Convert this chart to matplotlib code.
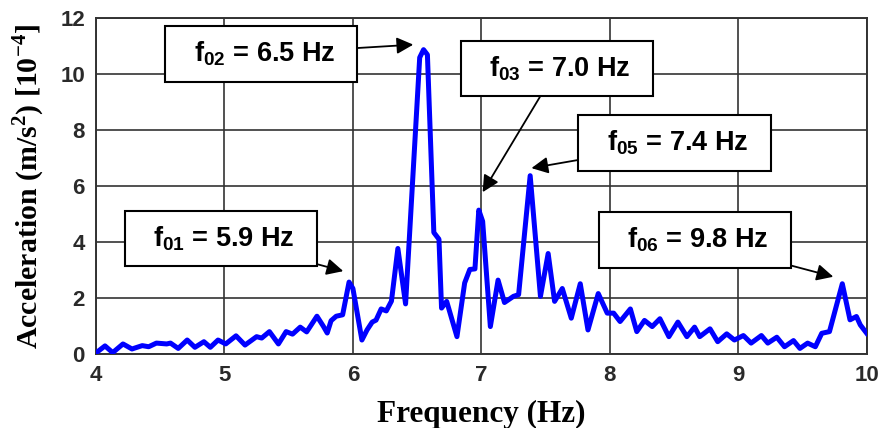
import numpy as np
import matplotlib
matplotlib.use("Agg")
from matplotlib import pyplot as plt

# spectrum (Hz, 1e-4 m/s2)
freq = [4.00, 4.07, 4.13, 4.21, 4.28, 4.36, 4.41, 4.47, 4.55, 4.58, 4.64, 4.71,
        4.77, 4.84, 4.89, 4.95, 5.01, 5.09, 5.16, 5.25, 5.29, 5.35, 5.42, 5.48,
        5.53, 5.59, 5.64, 5.72, 5.77, 5.80, 5.83, 5.87, 5.92, 5.97, 6.00, 6.07,
        6.11, 6.15, 6.18, 6.22, 6.26, 6.30, 6.35, 6.41, 6.52, 6.55, 6.58, 6.63,
        6.67, 6.69, 6.73, 6.81, 6.87, 6.91, 6.95, 6.98, 7.01, 7.07, 7.13, 7.18,
        7.25, 7.29, 7.38, 7.46, 7.52, 7.57, 7.63, 7.70, 7.77, 7.83, 7.91, 7.98,
        8.03, 8.08, 8.16, 8.21, 8.27, 8.33, 8.39, 8.46, 8.53, 8.60, 8.66, 8.70,
        8.78, 8.84, 8.91, 8.97, 9.04, 9.10, 9.18, 9.23, 9.30, 9.36, 9.43, 9.48,
        9.54, 9.60, 9.65, 9.71, 9.81, 9.87, 9.92, 9.95, 10.00]
accel = [0.05, 0.30, 0.06, 0.37, 0.19, 0.31, 0.27, 0.40, 0.37, 0.40, 0.21, 0.51,
         0.25, 0.45, 0.25, 0.51, 0.37, 0.66, 0.33, 0.63, 0.58, 0.81, 0.37, 0.81,
         0.72, 0.97, 0.80, 1.36, 1.00, 0.76, 1.20, 1.36, 1.41, 2.58, 2.35, 0.51,
         0.87, 1.15, 1.22, 1.62, 1.55, 1.90, 3.78, 1.80, 10.6, 10.88, 10.7, 4.35,
         4.11, 1.65, 1.89, 0.63, 2.55, 3.03, 3.05, 5.15, 4.75, 0.99, 2.65, 1.85,
         2.07, 2.13, 6.38, 2.07, 3.60, 1.89, 2.35, 1.29, 2.52, 0.87, 2.17, 1.47,
         1.47, 1.17, 1.62, 0.81, 1.21, 0.99, 1.27, 0.63, 1.15, 0.63, 0.97, 0.63,
         0.91, 0.45, 0.73, 0.51, 0.67, 0.40, 0.67, 0.40, 0.61, 0.27, 0.49, 0.21,
         0.40, 0.27, 0.75, 0.81, 2.52, 1.23, 1.35, 1.05, 0.75]

# peak labels: text, arrow tip (x, y), box centre (x, y)
peak_labels = [r"$f_{01}$ = 5.9 Hz", r"$f_{02}$ = 6.5 Hz", r"$f_{03}$ = 7.0 Hz",
               r"$f_{05}$ = 7.4 Hz", r"$f_{06}$ = 9.8 Hz"]
tip_x = [5.925, 6.47, 7.01, 7.39, 9.74]
tip_y = [2.97, 11.06, 5.79, 6.65, 2.77]
box_x = [4.973, 5.285, 7.589, 8.504, 8.663]
box_y = [4.13, 10.73, 10.21, 7.54, 4.08]

plt.rcParams["mathtext.fontset"] = "custom"
plt.rcParams["mathtext.bf"] = "Liberation Sans:bold"
plt.rcParams["mathtext.rm"] = "Liberation Serif:bold"
plt.rcParams["mathtext.default"] = "bf"

fig = plt.figure(figsize=(8.8, 4.28), dpi=100)
ax = fig.add_axes([0.1091, 0.1722, 0.8758, 0.785])

ax.plot(freq, accel, color="#0000ff", lw=3.6, solid_joinstyle="round", zorder=3)

ax.set_xlim(4, 10)
ax.set_ylim(0, 12)
ax.set_xticks(np.arange(4, 11, 1))
ax.set_yticks(np.arange(0, 13, 2))
ax.grid(True, color="#333333", lw=1.2)
for s in ax.spines.values():
    s.set_color("#333333")
    s.set_linewidth(1.4)
ax.tick_params(length=0, pad=8, labelsize=16)
for lab in ax.get_xticklabels() + ax.get_yticklabels():
    lab.set_fontfamily("Liberation Sans")
    lab.set_fontweight("bold")
    lab.set_color("#2a2a2a")

ax.set_xlabel("Frequency (Hz)", family="Liberation Serif", weight="bold",
              fontsize=22.5, labelpad=10)
ax.set_ylabel(r"Acceleration (m/s$^{\mathrm{2}}$) [10$^{\mathrm{-4}}$]",
              family="Liberation Serif", weight="bold", fontsize=21.5, labelpad=10)

for lab, tx, ty, bx, by in zip(peak_labels, tip_x, tip_y, box_x, box_y):
    ax.annotate("  " + lab + "  ", xy=(tx, ty), xytext=(bx, by),
                ha="center", va="center", fontsize=19.5, fontweight="bold",
                family="Liberation Sans", zorder=5,
                bbox=dict(boxstyle="square,pad=0.5", fc="white", ec="black", lw=1.5),
                arrowprops=dict(arrowstyle="-|>", color="black", lw=1.3,
                                mutation_scale=25, shrinkA=0, shrinkB=0))

fig.savefig("out.png", dpi=100)
